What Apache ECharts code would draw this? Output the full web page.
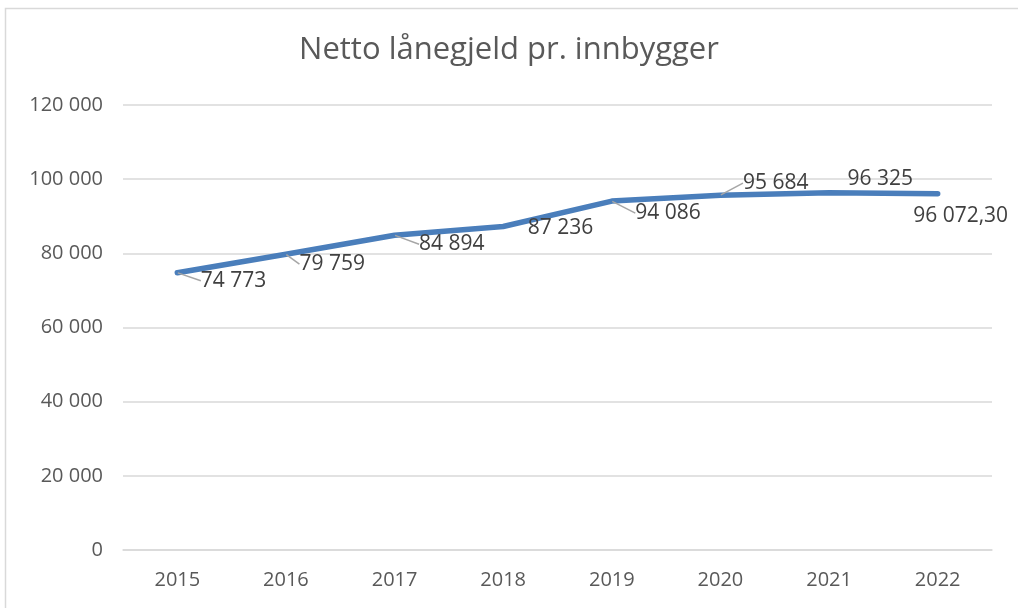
<!DOCTYPE html>
<html>
<head>
<meta charset="utf-8">
<script src="https://cdn.jsdelivr.net/npm/echarts@6/dist/echarts.min.js"></script>
<style>
  html, body { margin: 0; padding: 0; background: #fff; }
  #chart { width: 1018px; height: 608px; }
</style>
</head>
<body>
<div id="chart"></div>
<script>
// data
const years = ['2015', '2016', '2017', '2018', '2019', '2020', '2021', '2022']
const gjeld = [74773, 79759, 84894, 87236, 94086, 95684, 96325, 96072.3]
const yTicks = [0, 20000, 40000, 60000, 80000, 100000, 120000]

// label nudges per point (like excel moved labels)
const labelNudge = [[18, 8], [8, 10], [19, 9], [19, 2], [18, 12], [17, -12], [13, -14], [-30, 22]]
// which labels got a leader line in excel
const leader = [true, true, true, false, true, true, false, false]

// norsk format: mellomrom som tusenskille, komma som desimal
function fmt(v) {
  const whole = Math.floor(v)
  let s = String(whole).replace(/\B(?=(\d{3})+(?!\d))/g, ' ')
  if (v !== whole) s += ',' + (v - whole).toFixed(2).slice(2)
  return s
}

const myChart = echarts.init(document.getElementById('chart'))

const option = {
  backgroundColor: '#fff',
  animation: false,
  textStyle: { fontFamily: 'Open Sans' },
  title: {
    text: 'Netto lånegjeld pr. innbygger',
    left: 'center',
    top: 30,
    textStyle: { fontSize: 31, fontWeight: 'normal', color: '#595959', fontFamily: 'Open Sans' }
  },
  graphic: [{
    type: 'rect',
    left: 3, top: 6,
    shape: { width: 1040, height: 640 },
    style: { fill: 'none', stroke: '#d9d9d9', lineWidth: 1.5 },
    silent: true
  }],
  grid: { left: 123, right: 26, top: 105, bottom: 58, containLabel: false },
  xAxis: {
    type: 'category',
    data: years,
    boundaryGap: true,
    axisLine: { show: true, lineStyle: { color: '#d9d9d9', width: 1.5 } },
    axisTick: { show: false },
    axisLabel: { color: '#595959', fontSize: 20, margin: 20 }
  },
  yAxis: {
    type: 'value',
    min: yTicks[0],
    max: yTicks[yTicks.length - 1],
    interval: yTicks[1] - yTicks[0],
    axisLine: { show: false },
    axisTick: { show: false },
    splitLine: { lineStyle: { color: '#d9d9d9', width: 1.5 } },
    axisLabel: { color: '#595959', fontSize: 20, margin: 20, formatter: v => fmt(v) }
  },
  series: [{
    type: 'line',
    data: gjeld.map((v, i) => ({ value: v, labelLine: { show: leader[i] } })),
    symbol: 'circle',
    symbolSize: 1,
    showSymbol: true,
    itemStyle: { color: 'rgba(0,0,0,0)', borderWidth: 0 },
    smooth: false,
    lineStyle: { color: '#4a7ebb', width: 5.5, cap: 'round', join: 'round' },
    label: {
      show: true,
      position: 'right',
      distance: 5,
      fontSize: 21,
      color: '#404040',
      formatter: p => fmt(p.value)
    },
    labelLine: {
      show: true,
      lineStyle: { color: '#a6a6a6', width: 1.5 }
    },
    labelLayout: function (params) {
      const n = labelNudge[params.dataIndex]
      return { dx: n[0], dy: n[1], hideOverlap: false }
    }
  }]
}

myChart.setOption(option)
window.addEventListener('resize', function () {
  myChart.resize()
})
</script>
</body>
</html>
